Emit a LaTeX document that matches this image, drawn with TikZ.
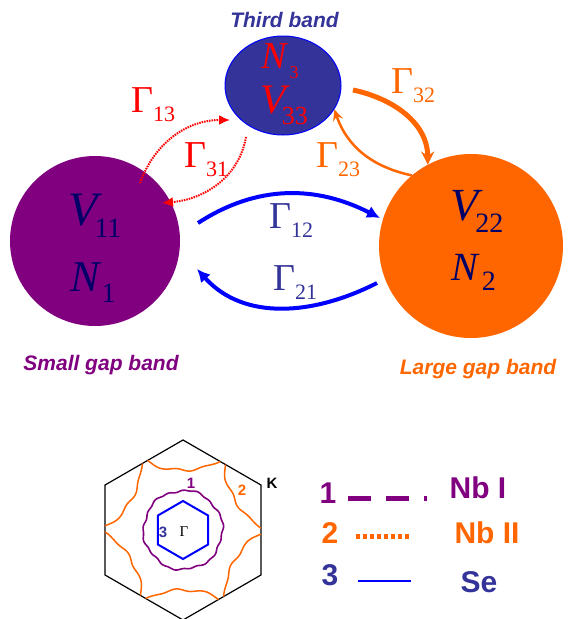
\documentclass[tikz,border=0pt]{standalone}
\usepackage{fontspec}
\setmainfont{Liberation Serif}
\setsansfont{Liberation Sans}
\usetikzlibrary{arrows.meta,shapes.geometric}

\definecolor{smallband}{HTML}{800080}
\definecolor{largeband}{HTML}{FF6600}
\definecolor{thirdband}{HTML}{333399}
\definecolor{symnavy}{HTML}{000066}

% letter, size, kern, subscript, subscript size, drop
\newcommand{\bandsym}[6]{{\fontsize{#2}{#2}\selectfont\itshape #1}\kern#3\raisebox{-#6}{\fontsize{#5}{#5}\selectfont #4}}
\newcommand{\rate}[1]{{\fontsize{38pt}{38pt}\selectfont Γ}\raisebox{-9pt}{\fontsize{22pt}{22pt}\selectfont #1}}

\tikzset{
  bandtitle/.style={font=\sffamily\bfseries\itshape\fontsize{21pt}{21pt}\selectfont, anchor=base, inner sep=0pt},
  legtext/.style={font=\sffamily\bfseries\fontsize{30pt}{30pt}\selectfont, anchor=base, inner sep=0pt},
  hexlabel/.style={font=\sffamily\bfseries\fontsize{15pt}{15pt}\selectfont, inner sep=0pt},
  sym/.style={inner sep=0pt, anchor=base west},
  bluearrow/.style={line width=4pt, blue, -{Latex[length=13pt,width=13pt]}},
  redarrow/.style={line width=2pt, red, dash pattern=on 1.5pt off 1pt, -{Latex[length=11pt,width=10pt]}},
  thickorange/.style={line width=5pt, largeband, -{Stealth[length=13pt,width=13pt]}},
  thinorange/.style={line width=2.5pt, largeband, -{Stealth[length=11pt,width=10pt]}}
}

\begin{document}
\begin{tikzpicture}[x=1pt,y=1pt]
\useasboundingbox (0,0) rectangle (571,-619);

% the three bands
\node[circle, fill=smallband, minimum size=170pt, inner sep=0pt] (small) at (95,-241) {};
\node[circle, fill=largeband, minimum size=184pt, inner sep=0pt] (large) at (471,-246) {};
\node[ellipse, fill=thirdband, draw=blue, line width=1pt, minimum width=116pt, minimum height=99pt, inner sep=0pt] (third) at (283,-85.5) {};

\node[sym, text=symnavy] (v11) at (68,-225) {\bandsym{V}{48pt}{-3pt}{11}{28pt}{12pt}};
\node[sym, text=symnavy] (n1) at (70,-291) {\bandsym{N}{44pt}{2pt}{1}{28pt}{11pt}};
\node[sym, text=symnavy] (v22) at (450,-220) {\bandsym{V}{46pt}{-3pt}{22}{28pt}{12pt}};
\node[sym, text=symnavy] (n2) at (451,-280) {\bandsym{N}{40pt}{4pt}{2}{28pt}{10pt}};
\node[sym, text=red] (n3) at (261,-68) {\bandsym{N}{38pt}{3pt}{3}{18pt}{10pt}};
\node[sym, text=red] (v33) at (260,-113) {\bandsym{V}{42pt}{-4pt}{33}{26pt}{11pt}};

\node[bandtitle, text=thirdband] (t3) at (284.5,-27) {Third band};
\node[bandtitle, text=smallband] (t1) at (101,-370) {Small gap band};
\node[bandtitle, text=largeband] (t2) at (478,-374) {Large gap band};

% rates
\node[sym, text=red] (g13) at (131,-112) {\rate{13}};
\node[sym, text=red] (g31) at (184,-167) {\rate{31}};
\node[sym, text=largeband] (g32) at (391,-93) {\rate{32}};
\node[sym, text=largeband] (g23) at (316,-167) {\rate{23}};
\node[sym, text=thirdband] (g12) at (269,-228) {\rate{12}};
\node[sym, text=thirdband] (g21) at (273,-290) {\rate{21}};

\coordinate (s12) at (198,-223);
\coordinate (e12) at (380,-218);
\coordinate (s21) at (377,-283);
\coordinate (e21) at (197,-269);
\coordinate (s13) at (140,-183);
\coordinate (e13) at (230,-120);
\coordinate (s31) at (246,-137);
\coordinate (e31) at (162,-203);
\coordinate (s32) at (353,-90);

\draw[bluearrow] (s12) to[out=33,in=153] (e12);
\draw[bluearrow] (s21) to[out=207,in=-48] (e21);
\draw[redarrow] (s13) to[out=70,in=180] (e13);
\draw[redarrow] (s31) to[out=-100,in=5] (e31);
\draw[thickorange] (s32) to[out=-12,in=90] (large.118);
\draw[thinorange] (large.130) to[out=168,in=-71] (third.-25);

% Brillouin zone
\begin{scope}[shift={(183,-530)}]
\draw[line width=1.2pt] (90:90) -- (150:90) -- (210:90) -- (270:90) -- (330:90) -- (30:90) -- cycle;
\draw[blue, line width=2pt] (90:29) -- (150:29) -- (210:29) -- (270:29) -- (330:29) -- (30:29) -- cycle;
\draw[smallband, line width=1.6pt] plot[domain=0:360, samples=145, smooth]
  (\x:{39.5+0.9*sin(6*\x+20)+0.6*sin(17*\x)});
\foreach \a in {0,60,...,300}
  \draw[largeband, line width=1.5pt, rotate=\a] plot[domain=-60:60, samples=49, smooth]
    ({(30+12*(\x/60)*(\x/60)+1.3*sin(7*\x))*sin(\x)}, {90-(30+12*(\x/60)*(\x/60)+1.3*sin(7*\x))*cos(\x)});
\end{scope}
\node[hexlabel, text=smallband] (h1) at (191,-483) {1};
\node[hexlabel, text=largeband] (h2) at (242,-490) {2};
\node[hexlabel, text=thirdband] (h3) at (163,-532) {3};
\node[font=\fontsize{15pt}{15pt}\selectfont, inner sep=0pt] (hg) at (184,-532) {Γ};
\node[hexlabel] (hk) at (272,-483) {K};

% legend
\node[legtext, text=smallband] (k1) at (328,-503) {1};
\node[legtext, text=largeband] (k2) at (330,-543) {2};
\node[legtext, text=thirdband] (k3) at (330,-585) {3};
\node[legtext, text=smallband] (nb1) at (478,-498) {Nb I};
\node[legtext, text=largeband] (nb2) at (487,-543) {Nb II};
\node[legtext, text=thirdband] (se) at (479,-592) {Se};
\draw[smallband, line width=5pt, dash pattern=on 23pt off 15pt] (348,-498) -- (427,-498);
\draw[largeband, line width=5pt, dash pattern=on 4pt off 3pt] (356,-536) -- (410,-536);
\draw[blue, line width=2pt] (358,-581) -- (411,-581);
\end{tikzpicture}
\end{document}
